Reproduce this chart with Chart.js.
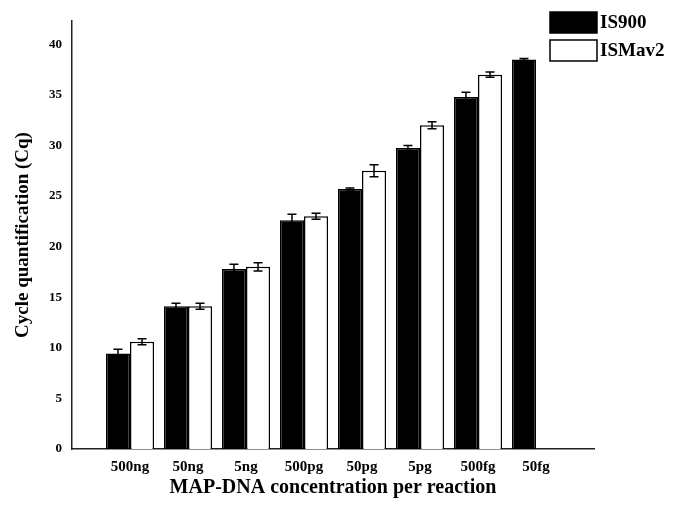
<!DOCTYPE html>
<html>
<head>
<meta charset="utf-8">
<script src="https://cdn.jsdelivr.net/npm/chart.js@4.4.0/dist/chart.umd.min.js"></script>
<style>
  html, body { margin: 0; padding: 0; background: #fff; }
  #wrap { width: 686px; height: 508px; }
</style>
</head>
<body>
<div id="wrap"><canvas id="cqChart" width="686" height="508"></canvas></div>
<script>
// values
let concentrations = ['500ng', '50ng', '5ng', '500pg', '50pg', '5pg', '500fg', '50fg'];
let is900 = [9.45, 14.1, 17.8, 22.6, 25.7, 29.75, 34.8, 38.5];
let is900Err = [0.4, 0.3, 0.45, 0.6, 0.1, 0.25, 0.45, 0.1];
let ismav2 = [10.6, 14.1, 18.0, 23.0, 27.5, 32.0, 37.0, null];
let ismav2Err = [0.3, 0.3, 0.4, 0.3, 0.6, 0.35, 0.25, 0];
let yTicks = [0, 5, 10, 15, 20, 25, 30, 35, 40];

// empty slot on each side so the first group sits one step in from the axis
function pad(arr) {
  return [null].concat(arr, [null]);
}

let serif = "'Liberation Serif', 'DejaVu Serif', serif";
Chart.defaults.font.family = serif;
Chart.defaults.color = '#000';

// error bars drawn from each bar's own pixel position
let errorBars = {
  id: 'errorBars',
  afterDatasetsDraw(chart) {
    let ctx = chart.ctx;
    let y = chart.scales.y;
    chart.data.datasets.forEach(function(ds, di) {
      let meta = chart.getDatasetMeta(di);
      meta.data.forEach(function(bar, i) {
        let v = ds.data[i];
        let e = ds.errors[i];
        if (v == null || !e) return;
        let top = y.getPixelForValue(v + e);
        let bot = y.getPixelForValue(v - e);
        ctx.save();
        ctx.strokeStyle = '#000';
        ctx.lineWidth = 1.5;
        ctx.beginPath();
        ctx.moveTo(bar.x, top);
        ctx.lineTo(bar.x, bot);
        ctx.moveTo(bar.x - 4.5, top);
        ctx.lineTo(bar.x + 4.5, top);
        ctx.moveTo(bar.x - 4.5, bot);
        ctx.lineTo(bar.x + 4.5, bot);
        ctx.stroke();
        ctx.restore();
      });
    });
  }
};

// boxed legend in the top right corner
let boxLegend = {
  id: 'boxLegend',
  afterDraw(chart) {
    let ctx = chart.ctx;
    ctx.save();
    chart.data.datasets.forEach(function(ds, i) {
      let bx = 550, by = 12 + i * 28;
      ctx.fillStyle = ds.backgroundColor;
      ctx.fillRect(bx, by, 47, 21);
      ctx.strokeStyle = '#000';
      ctx.lineWidth = 1.5;
      ctx.strokeRect(bx, by, 47, 21);
      ctx.fillStyle = '#000';
      ctx.font = 'bold 19px ' + serif;
      ctx.textBaseline = 'middle';
      ctx.fillText(ds.label, bx + 50, by + 11);
    });
    ctx.restore();
  }
};

let ctx = document.getElementById('cqChart').getContext('2d');
let myChart = new Chart(ctx, {
  type: 'bar',
  data: {
    labels: pad(concentrations).map(function(c) { return c || ''; }),
    datasets: [{
      label: 'IS900',
      data: pad(is900),
      errors: pad(is900Err),
      backgroundColor: '#000',
      borderColor: '#000',
      borderWidth: 1.5
    }, {
      label: 'ISMav2',
      data: pad(ismav2),
      errors: pad(ismav2Err),
      backgroundColor: '#fff',
      borderColor: '#000',
      borderWidth: 1.5
    }]
  },
  options: {
    responsive: false,
    animation: false,
    layout: { padding: { top: 21, right: 92, left: 0, bottom: 0 } },
    datasets: { bar: { categoryPercentage: 0.83, barPercentage: 1 } },
    plugins: {
      legend: { display: false },
      tooltip: { enabled: false }
    },
    scales: {
      x: {
        offset: false,
        grid: { display: false, drawTicks: false },
        border: { display: true, color: '#222', width: 1.5 },
        ticks: {
          padding: 9,
          autoSkip: false,
          maxRotation: 0,
          font: { size: 15, weight: 'bold' }
        },
        title: {
          display: true,
          text: 'MAP-DNA concentration per reaction',
          font: { size: 20, weight: 'bold' },
          padding: { top: 4, bottom: 8 }
        },
        afterFit: function(s) { s.height = 59; }
      },
      y: {
        min: 0,
        max: 42.3,
        grid: { display: false, drawTicks: false },
        border: { display: true, color: '#222', width: 1.5 },
        ticks: {
          stepSize: 5,
          padding: 10,
          font: { size: 13, weight: 'bold' },
          callback: function(v) { return yTicks.indexOf(v) >= 0 ? v : ''; }
        },
        title: {
          display: true,
          text: 'Cycle quantification (Cq)',
          font: { size: 19, weight: 'bold' },
          padding: { top: 12, bottom: 0 }
        },
        afterFit: function(s) { s.width = 72; }
      }
    }
  },
  plugins: [errorBars, boxLegend]
});
</script>
</body>
</html>
